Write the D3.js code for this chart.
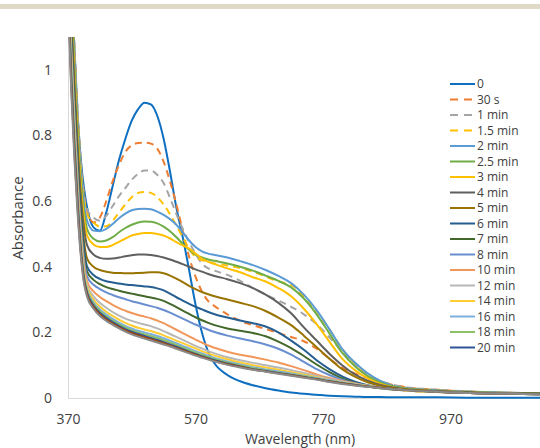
<!DOCTYPE html>
<head>
<meta charset="utf-8">
<script src="https://d3js.org/d3.v7.min.js"></script>
<style>
body { margin: 0; background: #fff; }
svg { display: block; }
text { font-family: "Open Sans", sans-serif; fill: #404040; }
.tick text { font-size: 14px; }
.axisTitle { font-size: 15px; }
.xTitle { font-size: 14px; }
.legend text { font-size: 12px; }
.domain { stroke: #d9d9d9; }
</style>
</head>
<body>
<script>
const width = 540;
const height = 448;

// wavelength grid (nm) that every trace is sampled on
const wavelengths = [370, 375, 380, 385, 390, 395,
  400, 410, 420, 430, 440, 450, 460, 470, 480, 490, 500, 510, 520, 530, 540, 550, 560, 570, 580, 590, 600,
  620, 640, 660, 680, 700, 720, 740, 760, 780, 800, 820, 840, 860, 880, 900,
  950, 1000, 1150];

// absorbance
const a0 = [1.6, 1.3, 1.07, 0.87, 0.73, 0.64,
  0.58, 0.52, 0.51, 0.565, 0.645, 0.725, 0.79, 0.845, 0.88, 0.9, 0.895, 0.86, 0.79, 0.69, 0.58, 0.49, 0.39, 0.285, 0.2, 0.14, 0.105,
  0.07, 0.051, 0.039, 0.03, 0.023, 0.017, 0.013, 0.01, 0.007, 0.005, 0.004, 0.003, 0.003, 0.002, 0.002,
  0.002, 0.001, 0.001];
const a30s = [1.6, 1.3, 1.07, 0.87, 0.72, 0.62,
  0.57, 0.535, 0.55, 0.6, 0.66, 0.71, 0.75, 0.77, 0.777, 0.778, 0.775, 0.76, 0.72, 0.66, 0.59, 0.51, 0.43, 0.37, 0.325, 0.295, 0.28,
  0.255, 0.235, 0.222, 0.21, 0.198, 0.186, 0.173, 0.15, 0.12, 0.092, 0.075, 0.062, 0.05, 0.04, 0.033,
  0.025, 0.02, 0.013];
const a1 = [1.6, 1.3, 1.07, 0.87, 0.72, 0.62,
  0.575, 0.55, 0.54, 0.555, 0.585, 0.615, 0.64, 0.665, 0.683, 0.693, 0.693, 0.68, 0.655, 0.61, 0.56, 0.515, 0.475, 0.44, 0.41, 0.395, 0.388,
  0.375, 0.357, 0.335, 0.315, 0.297, 0.278, 0.255, 0.225, 0.185, 0.142, 0.103, 0.072, 0.052, 0.04, 0.033,
  0.025, 0.02, 0.013];
const a1_5 = [1.55, 1.27, 1.05, 0.86, 0.71, 0.61,
  0.56, 0.535, 0.522, 0.523, 0.54, 0.565, 0.59, 0.612, 0.625, 0.628, 0.625, 0.612, 0.59, 0.56, 0.525, 0.49, 0.455, 0.43, 0.42, 0.415, 0.41,
  0.404, 0.396, 0.385, 0.37, 0.355, 0.345, 0.31, 0.265, 0.21, 0.15, 0.105, 0.075, 0.05, 0.036, 0.03,
  0.023, 0.019, 0.013];
const a2 = [1.5, 1.25, 1.03, 0.84, 0.69, 0.59,
  0.54, 0.51, 0.508, 0.515, 0.53, 0.548, 0.562, 0.572, 0.576, 0.577, 0.575, 0.568, 0.558, 0.545, 0.528, 0.505, 0.48, 0.46, 0.447, 0.44, 0.436,
  0.428, 0.417, 0.405, 0.39, 0.372, 0.35, 0.315, 0.268, 0.21, 0.15, 0.108, 0.075, 0.052, 0.037, 0.03,
  0.023, 0.019, 0.013];
const a2_5 = [1.48, 1.23, 1.01, 0.82, 0.67, 0.57,
  0.515, 0.485, 0.477, 0.48, 0.49, 0.505, 0.518, 0.528, 0.535, 0.538, 0.537, 0.532, 0.522, 0.508, 0.49, 0.47, 0.452, 0.437, 0.428, 0.422, 0.418,
  0.41, 0.4, 0.388, 0.373, 0.357, 0.337, 0.303, 0.255, 0.197, 0.138, 0.097, 0.067, 0.047, 0.035, 0.029,
  0.022, 0.018, 0.013];
const a3 = [1.45, 1.2, 0.99, 0.8, 0.65, 0.55,
  0.495, 0.468, 0.46, 0.46, 0.466, 0.476, 0.486, 0.495, 0.5, 0.503, 0.503, 0.5, 0.495, 0.486, 0.475, 0.465, 0.455, 0.44, 0.425, 0.415, 0.408,
  0.395, 0.383, 0.368, 0.355, 0.335, 0.31, 0.272, 0.225, 0.172, 0.12, 0.085, 0.06, 0.043, 0.033, 0.027,
  0.021, 0.017, 0.012];
const a4 = [1.42, 1.17, 0.96, 0.77, 0.62, 0.52,
  0.465, 0.437, 0.427, 0.424, 0.425, 0.428, 0.432, 0.435, 0.437, 0.437, 0.436, 0.433, 0.428, 0.422, 0.415, 0.408, 0.4, 0.392, 0.385, 0.378, 0.372,
  0.362, 0.35, 0.335, 0.315, 0.29, 0.258, 0.215, 0.175, 0.135, 0.1, 0.072, 0.053, 0.04, 0.032, 0.027,
  0.021, 0.017, 0.012];
const a5 = [1.4, 1.14, 0.93, 0.74, 0.59, 0.48,
  0.425, 0.4, 0.39, 0.385, 0.382, 0.381, 0.38, 0.38, 0.381, 0.382, 0.383, 0.383, 0.38, 0.373, 0.364, 0.353, 0.342, 0.332, 0.323, 0.316, 0.31,
  0.3, 0.29, 0.28, 0.265, 0.245, 0.222, 0.19, 0.155, 0.12, 0.088, 0.065, 0.048, 0.037, 0.03, 0.026,
  0.02, 0.016, 0.012];
const a6 = [1.38, 1.12, 0.91, 0.72, 0.57, 0.46,
  0.4, 0.375, 0.363, 0.356, 0.352, 0.349, 0.346, 0.344, 0.342, 0.34, 0.338, 0.334, 0.328, 0.318, 0.307, 0.297, 0.287, 0.278, 0.27, 0.262, 0.255,
  0.245, 0.236, 0.228, 0.218, 0.2, 0.175, 0.147, 0.115, 0.088, 0.066, 0.05, 0.039, 0.032, 0.027, 0.024,
  0.019, 0.016, 0.012];
const a7 = [1.36, 1.1, 0.89, 0.7, 0.55, 0.44,
  0.385, 0.36, 0.347, 0.338, 0.332, 0.327, 0.322, 0.318, 0.314, 0.31, 0.306, 0.302, 0.296, 0.287, 0.277, 0.266, 0.256, 0.246, 0.237, 0.229, 0.222,
  0.212, 0.205, 0.198, 0.188, 0.172, 0.152, 0.128, 0.102, 0.079, 0.06, 0.046, 0.036, 0.03, 0.026, 0.023,
  0.019, 0.016, 0.012];
const a8 = [1.34, 1.08, 0.87, 0.68, 0.53, 0.425,
  0.37, 0.345, 0.332, 0.322, 0.314, 0.307, 0.301, 0.295, 0.29, 0.285, 0.28, 0.275, 0.268, 0.26, 0.251, 0.242, 0.233, 0.224, 0.216, 0.208, 0.201,
  0.19, 0.181, 0.173, 0.163, 0.15, 0.132, 0.11, 0.088, 0.07, 0.056, 0.045, 0.037, 0.031, 0.027, 0.023,
  0.018, 0.015, 0.011];
const a10 = [1.32, 1.06, 0.85, 0.66, 0.51, 0.405,
  0.355, 0.325, 0.308, 0.295, 0.284, 0.274, 0.266, 0.259, 0.253, 0.248, 0.243, 0.236, 0.228, 0.218, 0.208, 0.198, 0.188, 0.178, 0.169, 0.16, 0.153,
  0.141, 0.132, 0.125, 0.117, 0.108, 0.097, 0.085, 0.072, 0.061, 0.052, 0.044, 0.037, 0.031, 0.027, 0.023,
  0.018, 0.015, 0.011];
const a12 = [1.3, 1.04, 0.83, 0.64, 0.495, 0.39,
  0.345, 0.31, 0.29, 0.275, 0.262, 0.251, 0.242, 0.235, 0.229, 0.224, 0.219, 0.212, 0.204, 0.195, 0.186, 0.177, 0.168, 0.159, 0.151, 0.143, 0.136,
  0.124, 0.115, 0.107, 0.1, 0.093, 0.085, 0.076, 0.067, 0.058, 0.05, 0.043, 0.037, 0.031, 0.027, 0.023,
  0.018, 0.015, 0.011];
const a14 = [1.29, 1.03, 0.82, 0.63, 0.485, 0.385,
  0.338, 0.3, 0.279, 0.263, 0.25, 0.239, 0.229, 0.221, 0.214, 0.209, 0.204, 0.198, 0.191, 0.183, 0.175, 0.167, 0.159, 0.151, 0.143, 0.136, 0.129,
  0.118, 0.108, 0.1, 0.093, 0.086, 0.079, 0.071, 0.063, 0.055, 0.048, 0.042, 0.036, 0.031, 0.027, 0.023,
  0.018, 0.015, 0.011];
const a16 = [1.28, 1.02, 0.81, 0.62, 0.475, 0.375,
  0.33, 0.292, 0.27, 0.254, 0.241, 0.23, 0.22, 0.212, 0.205, 0.2, 0.195, 0.189, 0.182, 0.175, 0.167, 0.159, 0.151, 0.143, 0.136, 0.129, 0.122,
  0.111, 0.102, 0.094, 0.087, 0.081, 0.075, 0.068, 0.061, 0.054, 0.047, 0.041, 0.036, 0.031, 0.027, 0.024,
  0.019, 0.015, 0.011];
const a18 = [1.27, 1.0, 0.79, 0.61, 0.465, 0.37,
  0.325, 0.287, 0.265, 0.249, 0.236, 0.225, 0.215, 0.207, 0.2, 0.194, 0.189, 0.183, 0.176, 0.169, 0.162, 0.154, 0.146, 0.139, 0.132, 0.125, 0.119,
  0.108, 0.099, 0.091, 0.084, 0.078, 0.072, 0.066, 0.059, 0.052, 0.046, 0.04, 0.036, 0.031, 0.027, 0.024,
  0.019, 0.015, 0.011];
const a20 = [1.26, 0.98, 0.77, 0.6, 0.455, 0.365,
  0.32, 0.282, 0.26, 0.244, 0.231, 0.22, 0.21, 0.202, 0.195, 0.189, 0.183, 0.177, 0.17, 0.163, 0.156, 0.149, 0.141, 0.134, 0.127, 0.121, 0.115,
  0.105, 0.096, 0.088, 0.082, 0.076, 0.07, 0.064, 0.058, 0.051, 0.045, 0.04, 0.035, 0.031, 0.027, 0.024,
  0.019, 0.015, 0.011];
// two more traces sit under the 20 min one but have no legend row
const extraA = [1.24, 0.96, 0.75, 0.58, 0.445, 0.358,
  0.314, 0.277, 0.255, 0.239, 0.227, 0.216, 0.206, 0.198, 0.191, 0.185, 0.179, 0.173, 0.167, 0.16, 0.153, 0.146, 0.139, 0.132, 0.125, 0.119, 0.113,
  0.103, 0.095, 0.087, 0.081, 0.075, 0.069, 0.063, 0.057, 0.05, 0.044, 0.039, 0.035, 0.031, 0.027, 0.024,
  0.019, 0.015, 0.011];
const extraB = [1.22, 0.94, 0.73, 0.565, 0.435, 0.35,
  0.308, 0.272, 0.25, 0.235, 0.223, 0.212, 0.202, 0.194, 0.187, 0.181, 0.175, 0.169, 0.163, 0.157, 0.15, 0.143, 0.136, 0.129, 0.123, 0.117, 0.111,
  0.101, 0.093, 0.086, 0.08, 0.074, 0.068, 0.062, 0.056, 0.049, 0.043, 0.038, 0.034, 0.03, 0.027, 0.024,
  0.019, 0.015, 0.011];

const seriesNames = ["0", "30 s", "1 min", "1.5 min", "2 min", "2.5 min", "3 min", "4 min", "5 min",
  "6 min", "7 min", "8 min", "10 min", "12 min", "14 min", "16 min", "18 min", "20 min"];
const seriesValues = [a0, a30s, a1, a1_5, a2, a2_5, a3, a4, a5, a6, a7, a8, a10, a12, a14, a16, a18, a20];

const xTicks = [370, 570, 770, 970];
const yTicks = [0, 0.2, 0.4, 0.6, 0.8, 1];

const colors = ["#0e6fc1", "#ed7d31", "#a5a5a5", "#ffc000", "#5b9bd5", "#70ad47", "#ffc000", "#5f5f5f", "#997300",
  "#255e91", "#43682b", "#698ed0", "#f1975a", "#b7b7b7", "#ffcd33", "#7cafdd", "#8cc168", "#2f5597"];
const dashedNames = ["30 s", "1 min", "1.5 min"];

const series = seriesNames.map((n, i) => ({name: n, values: seriesValues[i], colour: colors[i], legend: true}));
series.push({name: "", values: extraA, colour: "#9e480e", legend: false});
series.push({name: "", values: extraB, colour: "#8a8a8a", legend: false});

const svg = d3.select("body").append("svg")
  .attr("width", width)
  .attr("height", height);

// thin beige strip along the top
svg.append("rect")
  .attr("x", 0).attr("y", 4)
  .attr("width", width).attr("height", 5)
  .attr("fill", "#e1d9c8");

const x = d3.scaleLinear().domain([370, 1170]).range([68, 578]);
const y = d3.scaleLinear().domain([0, 1.1]).range([398, 37]);

svg.append("g")
  .attr("transform", `translate(0,${y(0)})`)
  .call(d3.axisBottom(x).tickValues(xTicks).tickSize(0).tickPadding(16))
  .call(g => g.select(".domain").attr("stroke", "#d9d9d9"));

svg.append("g")
  .attr("transform", `translate(${x(370)},0)`)
  .call(d3.axisLeft(y).tickValues(yTicks).tickFormat(d => String(d)).tickSize(0).tickPadding(16))
  .call(g => g.select(".domain").attr("stroke", "#d9d9d9"));

svg.selectAll(".tick text").attr("fill", "#404040");

svg.append("clipPath").attr("id", "plotClip")
  .append("rect")
  .attr("x", x(370)).attr("y", y(1.1))
  .attr("width", width - x(370)).attr("height", y(0) - y(1.1) + 2);

const line = d3.line()
  .x((d, i) => x(wavelengths[i]))
  .y(d => y(d))
  .curve(d3.curveMonotoneX);

svg.append("g")
  .attr("clip-path", "url(#plotClip)")
  .selectAll("path")
  .data(series)
  .join("path")
  .attr("d", d => line(d.values))
  .attr("fill", "none")
  .attr("stroke", d => d.colour)
  .attr("stroke-width", 2)
  .attr("stroke-dasharray", d => dashedNames.includes(d.name) ? "7,5" : null);

svg.append("text")
  .attr("class", "xTitle")
  .attr("x", 300).attr("y", 444)
  .attr("text-anchor", "middle")
  .text("Wavelength (nm)");

svg.append("text")
  .attr("class", "axisTitle")
  .attr("transform", "translate(23,218) rotate(-90)")
  .attr("text-anchor", "middle")
  .text("Absorbance");

// legend
const legend = svg.append("g").attr("class", "legend");
const rows = legend.selectAll("g")
  .data(series.filter(d => d.legend))
  .join("g")
  .attr("transform", (d, i) => `translate(0,${84 + i * 15.5})`);

rows.append("line")
  .attr("x1", 450).attr("x2", 475)
  .attr("stroke", d => d.colour)
  .attr("stroke-width", 2)
  .attr("stroke-dasharray", d => dashedNames.includes(d.name) ? "8,6" : null);

rows.append("text")
  .attr("x", 477)
  .attr("dy", "0.35em")
  .text(d => d.name);
</script>
</body>
